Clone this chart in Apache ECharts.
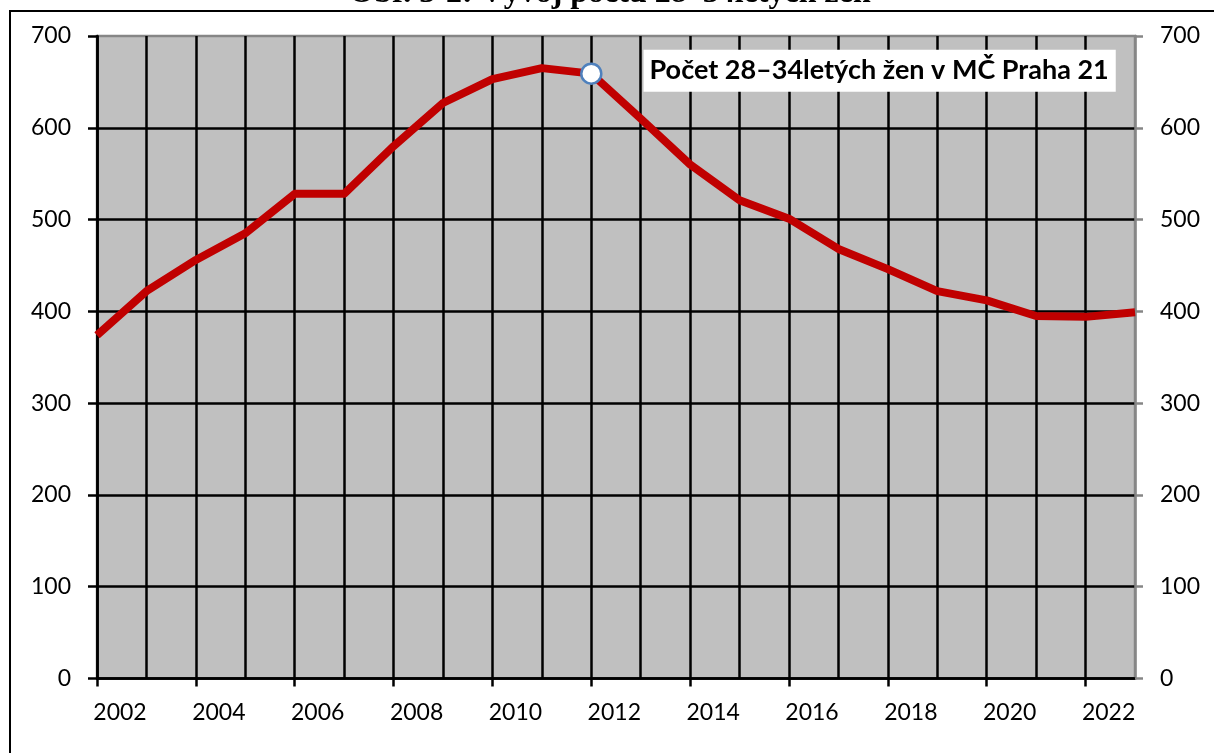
<!DOCTYPE html>
<html>
<head>
<meta charset="utf-8">
<script src="https://cdn.jsdelivr.net/npm/echarts@6/dist/echarts.min.js"></script>
<style>
html,body{margin:0;padding:0;background:#fff;}
#chart{width:1214px;height:753px;}
</style>
</head>
<body>
<div id="chart"></div>
<script>
const years = ['2002','2003','2004','2005','2006','2007','2008','2009','2010','2011','2012','2013','2014','2015','2016','2017','2018','2019','2020','2021','2022','2023'];
const women = [374,422,456,485,528,528,580,627,653,665,659,610,560,521,501,468,446,422,412,395,394,399];
const yTicks = [0,100,200,300,400,500,600,700];
const seriesName = 'Počet 28–34letých žen v MČ Praha 21';
const chartTitle = 'Obr. 3-2: Vývoj počtu 28–34letých žen';
const highlightYear = '2012';

const FONT = 'Lato';
const chart = echarts.init(document.getElementById('chart'), null, {renderer:'canvas'});

const seriesData = women.map((v, i) => {
  if (years[i] !== highlightYear) return v;
  return {
    value: v,
    symbol: 'circle',
    symbolSize: 20,
    itemStyle: {color: '#ffffff', borderColor: '#4F81BD', borderWidth: 2.5},
    label: {
      show: true,
      position: 'right',
      distance: 41,
      offset: [0, -3],
      formatter: () => seriesName,
      backgroundColor: '#ffffff',
      padding: [8, 7, 7, 6],
      color: '#000',
      fontFamily: FONT,
      fontWeight: 'bold',
      fontSize: 27
    }
  };
});

chart.setOption({
  animation: false,
  graphic: [
    {type:'rect', z: -10, shape:{x:10, y:11, width:1400, height:1000}, style:{fill:'none', stroke:'#000', lineWidth:2}},
    {type:'text', x:610, y:-6, style:{text: chartTitle, font:'bold 32px "Liberation Serif"', fill:'#000', align:'center', verticalAlign:'middle'}}
  ],
  grid: {left:97, right:79, top:36, bottom:74.5, show:true, backgroundColor:'#C0C0C0', borderColor:'#868686', borderWidth:2.5},
  xAxis: {
    type:'category',
    data: years,
    boundaryGap: false,
    axisLine: {show:true, lineStyle:{color:'#000', width:2.5}},
    axisTick: {show:true, interval:1, length:8, lineStyle:{color:'#000', width:2.5}},
    axisLabel: {interval:1, margin:23, align:'center', padding:[0,0,0,46], color:'#000', fontFamily:FONT, fontSize:23},
    splitLine: {show:true, interval:0, showMaxLine:false, lineStyle:{color:'#000', width:2.5}}
  },
  yAxis: [
    {
      type:'value', min:0, max:700, interval:100, position:'left',
      axisLine: {show:true, lineStyle:{color:'#000', width:2.5}},
      axisTick: {show:true, length:9, lineStyle:{color:'#000', width:2.5}},
      axisLabel: {margin:26, color:'#000', fontFamily:FONT, fontSize:23, formatter: v => yTicks.includes(v) ? String(v) : ''},
      splitLine: {show:true, showMaxLine:false, lineStyle:{color:'#000', width:2.5}}
    },
    {
      type:'value', min:0, max:700, interval:100, position:'right',
      axisLine: {show:true, lineStyle:{color:'#868686', width:2.5}},
      axisTick: {show:true, length:8, lineStyle:{color:'#868686', width:2.5}},
      axisLabel: {margin:25, color:'#000', fontFamily:FONT, fontSize:23, formatter: v => yTicks.includes(v) ? String(v) : ''},
      splitLine: {show:false}
    }
  ],
  series: [{
    name: seriesName,
    type:'line',
    yAxisIndex: 0,
    data: seriesData,
    symbol: 'none',
    showSymbol: true,
    silent: true,
    lineStyle: {color:'#C00000', width:8, join:'round'},
    itemStyle: {color:'#C00000'},
    z: 5
  }]
});
</script>
</body>
</html>
